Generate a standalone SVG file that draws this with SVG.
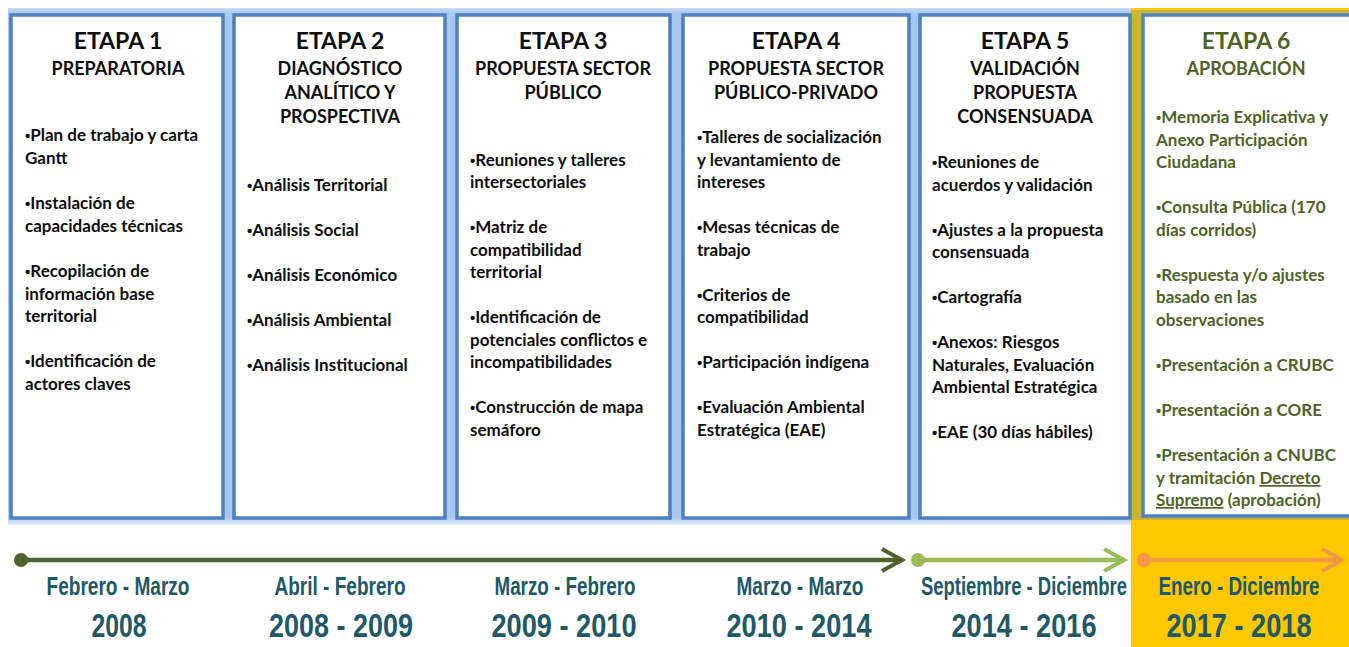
<svg xmlns="http://www.w3.org/2000/svg" width="1349" height="647" viewBox="0 0 1349 647">
<style>
.box{fill:#ffffff;stroke:#4f81bd;stroke-width:3.5}
.t{font-family:Lato,"Liberation Sans",sans-serif;font-weight:bold;fill:#0d0d0d}
.h1{font-size:23px;text-anchor:middle}
.h2{font-size:18px;text-anchor:middle}
.it{font-size:17px}
.b{font-family:"Liberation Sans",sans-serif;font-size:15px}
.g{fill:#4f6228}
.tl{font-family:"Liberation Sans Narrow","Liberation Sans",sans-serif;font-weight:bold;fill:#215868;text-anchor:middle}
.m{font-size:25px}
.y{font-size:34px}
</style>
<defs>
<linearGradient id="band" x1="0" y1="0" x2="0" y2="1">
<stop offset="0" stop-color="#c9ddf5"/>
<stop offset="0.01" stop-color="#a7c7ee"/>
<stop offset="0.985" stop-color="#a7c7ee"/>
<stop offset="1" stop-color="#e3eefb"/>
</linearGradient>
<marker id="ad" viewBox="0 0 12 12" refX="10" refY="6" markerWidth="12" markerHeight="12" markerUnits="userSpaceOnUse" orient="auto" overflow="visible">
<path d="M-10,-5 L10,6 L-10,17" fill="none" stroke="#4f6228" stroke-width="4"/>
</marker>
<marker id="al" viewBox="0 0 12 12" refX="10" refY="6" markerWidth="12" markerHeight="12" markerUnits="userSpaceOnUse" orient="auto" overflow="visible">
<path d="M-10,-5 L10,6 L-10,17" fill="none" stroke="#9bbb59" stroke-width="4"/>
</marker>
<marker id="ao" viewBox="0 0 12 12" refX="10" refY="6" markerWidth="12" markerHeight="12" markerUnits="userSpaceOnUse" orient="auto" overflow="visible">
<path d="M-10,-5 L10,6 L-10,17" fill="none" stroke="#f79646" stroke-width="4"/>
</marker>
</defs>
<rect x="0" y="0" width="1349" height="647" fill="#ffffff"/>
<rect x="1131" y="8" width="218" height="639" fill="#fdc800"/>
<rect x="8" y="8" width="1123" height="517" fill="url(#band)"/>
<rect x="1131" y="10" width="218" height="510" fill="#c9b535"/>

<g id="etapa1">
<rect class="box" x="11" y="15" width="212" height="503"/>
<text class="t h1" x="118" y="49">ETAPA 1</text>
<text class="t h2" x="118" y="75">PREPARATORIA</text>
<text class="t it" x="25" y="141"><tspan class="b">•</tspan>Plan de trabajo y carta</text>
<text class="t it" x="25" y="164">Gantt</text>
<text class="t it" x="25" y="209"><tspan class="b">•</tspan>Instalación de</text>
<text class="t it" x="25" y="232">capacidades técnicas</text>
<text class="t it" x="25" y="277"><tspan class="b">•</tspan>Recopilación de</text>
<text class="t it" x="25" y="300">información base</text>
<text class="t it" x="25" y="322">territorial</text>
<text class="t it" x="25" y="367"><tspan class="b">•</tspan>Identificación de</text>
<text class="t it" x="25" y="390">actores claves</text>
</g>

<g id="etapa2">
<rect class="box" x="234" y="15" width="211" height="503"/>
<text class="t h1" x="340" y="49">ETAPA 2</text>
<text class="t h2" x="340" y="75">DIAGNÓSTICO</text>
<text class="t h2" x="340" y="99">ANALÍTICO Y</text>
<text class="t h2" x="340" y="123">PROSPECTIVA</text>
<text class="t it" x="247" y="191"><tspan class="b">•</tspan>Análisis Territorial</text>
<text class="t it" x="247" y="236"><tspan class="b">•</tspan>Análisis Social</text>
<text class="t it" x="247" y="281"><tspan class="b">•</tspan>Análisis Económico</text>
<text class="t it" x="247" y="326"><tspan class="b">•</tspan>Análisis Ambiental</text>
<text class="t it" x="247" y="371"><tspan class="b">•</tspan>Análisis Institucional</text>
</g>

<g id="etapa3">
<rect class="box" x="457" y="15" width="213" height="503"/>
<text class="t h1" x="563" y="49">ETAPA 3</text>
<text class="t h2" x="563" y="75">PROPUESTA SECTOR</text>
<text class="t h2" x="563" y="99">PÚBLICO</text>
<text class="t it" x="470" y="166"><tspan class="b">•</tspan>Reuniones y talleres</text>
<text class="t it" x="470" y="188">intersectoriales</text>
<text class="t it" x="470" y="233"><tspan class="b">•</tspan>Matriz de</text>
<text class="t it" x="470" y="256">compatibilidad</text>
<text class="t it" x="470" y="278">territorial</text>
<text class="t it" x="470" y="323"><tspan class="b">•</tspan>Identificación de</text>
<text class="t it" x="470" y="346">potenciales conflictos e</text>
<text class="t it" x="470" y="368">incompatibilidades</text>
<text class="t it" x="470" y="413"><tspan class="b">•</tspan>Construcción de mapa</text>
<text class="t it" x="470" y="436">semáforo</text>
</g>

<g id="etapa4">
<rect class="box" x="683" y="15" width="226" height="503"/>
<text class="t h1" x="796" y="49">ETAPA 4</text>
<text class="t h2" x="796" y="75">PROPUESTA SECTOR</text>
<text class="t h2" x="796" y="99">PÚBLICO-PRIVADO</text>
<text class="t it" x="697" y="143"><tspan class="b">•</tspan>Talleres de socialización</text>
<text class="t it" x="697" y="166">y levantamiento de</text>
<text class="t it" x="697" y="188">intereses</text>
<text class="t it" x="697" y="233"><tspan class="b">•</tspan>Mesas técnicas de</text>
<text class="t it" x="697" y="256">trabajo</text>
<text class="t it" x="697" y="301"><tspan class="b">•</tspan>Criterios de</text>
<text class="t it" x="697" y="323">compatibilidad</text>
<text class="t it" x="697" y="368"><tspan class="b">•</tspan>Participación indígena</text>
<text class="t it" x="697" y="413"><tspan class="b">•</tspan>Evaluación Ambiental</text>
<text class="t it" x="697" y="436">Estratégica (EAE)</text>
</g>

<g id="etapa5">
<rect class="box" x="920" y="15" width="210" height="503"/>
<text class="t h1" x="1025" y="49">ETAPA 5</text>
<text class="t h2" x="1025" y="75">VALIDACIÓN</text>
<text class="t h2" x="1025" y="99">PROPUESTA</text>
<text class="t h2" x="1025" y="123">CONSENSUADA</text>
<text class="t it" x="932" y="168"><tspan class="b">•</tspan>Reuniones de</text>
<text class="t it" x="932" y="191">acuerdos y validación</text>
<text class="t it" x="932" y="236"><tspan class="b">•</tspan>Ajustes a la propuesta</text>
<text class="t it" x="932" y="258">consensuada</text>
<text class="t it" x="932" y="303"><tspan class="b">•</tspan>Cartografía</text>
<text class="t it" x="932" y="348"><tspan class="b">•</tspan>Anexos: Riesgos</text>
<text class="t it" x="932" y="371">Naturales, Evaluación</text>
<text class="t it" x="932" y="393">Ambiental Estratégica</text>
<text class="t it" x="932" y="438"><tspan class="b">•</tspan>EAE (30 días hábiles)</text>
</g>

<g id="etapa6">
<rect class="box" x="1143" y="15" width="220" height="501"/>
<text class="t h1 g" x="1246" y="49">ETAPA 6</text>
<text class="t h2 g" x="1246" y="75">APROBACIÓN</text>
<text class="t it g" x="1156" y="123"><tspan class="b">•</tspan>Memoria Explicativa y</text>
<text class="t it g" x="1156" y="146">Anexo Participación</text>
<text class="t it g" x="1156" y="168">Ciudadana</text>
<text class="t it g" x="1156" y="213"><tspan class="b">•</tspan>Consulta Pública (170</text>
<text class="t it g" x="1156" y="236">días corridos)</text>
<text class="t it g" x="1156" y="281"><tspan class="b">•</tspan>Respuesta y/o ajustes</text>
<text class="t it g" x="1156" y="303">basado en las</text>
<text class="t it g" x="1156" y="326">observaciones</text>
<text class="t it g" x="1156" y="371"><tspan class="b">•</tspan>Presentación a CRUBC</text>
<text class="t it g" x="1156" y="416"><tspan class="b">•</tspan>Presentación a CORE</text>
<text class="t it g" x="1156" y="461"><tspan class="b">•</tspan>Presentación a CNUBC</text>
<text class="t it g" x="1156" y="484">y tramitación <tspan text-decoration="underline">Decreto</tspan></text>
<text class="t it g" x="1156" y="506"><tspan text-decoration="underline">Supremo</tspan> (aprobación)</text>
</g>

<g id="connectors">
<line x1="21" y1="560" x2="902" y2="560" stroke="#4f6228" stroke-width="4.5" marker-end="url(#ad)"/>
<circle cx="21" cy="560" r="7" fill="#4f6228"/>
<line x1="918" y1="560" x2="1124" y2="560" stroke="#9bbb59" stroke-width="4.5" marker-end="url(#al)"/>
<circle cx="918" cy="560" r="7" fill="#9bbb59"/>
<line x1="1144" y1="560" x2="1342" y2="560" stroke="#f79646" stroke-width="4.5" marker-end="url(#ao)"/>
<circle cx="1144" cy="560" r="7" fill="#f79646"/>
</g>

<g id="timeline">
<text class="tl m" x="118" y="595" textLength="143" lengthAdjust="spacingAndGlyphs">Febrero - Marzo</text>
<text class="tl y" x="119" y="637" textLength="55" lengthAdjust="spacingAndGlyphs">2008</text>
<text class="tl m" x="340" y="595" textLength="131" lengthAdjust="spacingAndGlyphs">Abril - Febrero</text>
<text class="tl y" x="341" y="637" textLength="144" lengthAdjust="spacingAndGlyphs">2008 - 2009</text>
<text class="tl m" x="565" y="595" textLength="141" lengthAdjust="spacingAndGlyphs">Marzo - Febrero</text>
<text class="tl y" x="564" y="637" textLength="145" lengthAdjust="spacingAndGlyphs">2009 - 2010</text>
<text class="tl m" x="800" y="595" textLength="127" lengthAdjust="spacingAndGlyphs">Marzo - Marzo</text>
<text class="tl y" x="799" y="637" textLength="145" lengthAdjust="spacingAndGlyphs">2010 - 2014</text>
<text class="tl m" x="1024" y="595" textLength="206" lengthAdjust="spacingAndGlyphs">Septiembre - Diciembre</text>
<text class="tl y" x="1024" y="637" textLength="145" lengthAdjust="spacingAndGlyphs">2014 - 2016</text>
<text class="tl m" x="1239" y="595" textLength="161" lengthAdjust="spacingAndGlyphs">Enero - Diciembre</text>
<text class="tl y" x="1239" y="637" textLength="145" lengthAdjust="spacingAndGlyphs">2017 - 2018</text>
</g>
</svg>
